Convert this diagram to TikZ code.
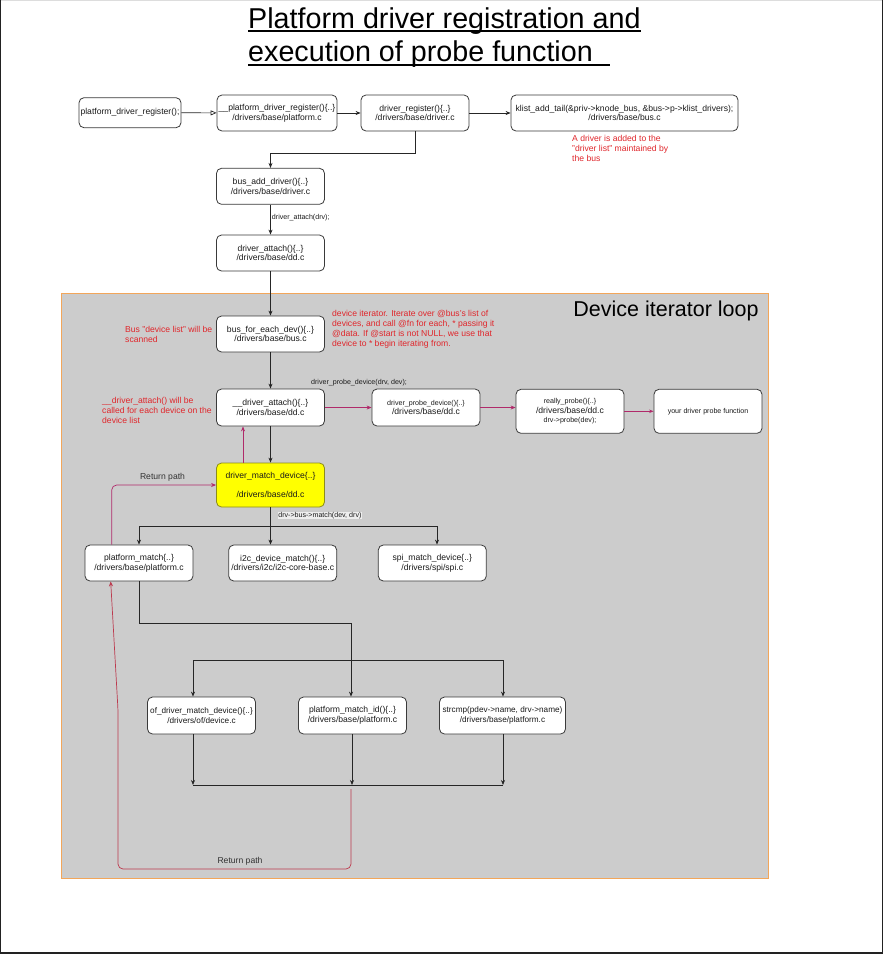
\documentclass[tikz,border=0pt]{standalone}
\usepackage{fontspec}
\setmainfont{Liberation Sans}
\usetikzlibrary{arrows.meta,calc}
\definecolor{boxline}{HTML}{3A3A3A}
\definecolor{txt}{HTML}{1A1A1A}
\definecolor{lineblk}{HTML}{262626}
\definecolor{maroon}{HTML}{B02A6A}
\definecolor{retred}{HTML}{BC3A4E}
\definecolor{notered}{HTML}{E0262B}
\definecolor{regiongray}{HTML}{CCCCCC}
\definecolor{regionorange}{HTML}{F2A65A}
\definecolor{yellowbox}{HTML}{FFFF00}
\definecolor{yellowline}{HTML}{8C8C1A}
\definecolor{labelbg}{HTML}{EEEEEE}
\definecolor{framedark}{HTML}{222222}
\definecolor{framegray}{HTML}{DDDDDD}
\definecolor{graytxt}{HTML}{333333}
\newcommand{\myfont}{\fontsize{8.6}{9.8}\selectfont}
\newcommand{\mysmall}{\fontsize{7.1}{9}\selectfont}
\newcommand{\mytiny}{\fontsize{8.2}{9.8}\selectfont}
\tikzset{
  box/.style={draw=boxline, fill=white, rounded corners=5pt, align=center,
    inner sep=0.5pt, font=\myfont, text=txt, line width=0.8pt},
  arr/.style={-{Stealth[length=5pt,width=4pt]}, line width=0.7pt, draw=lineblk},
  marr/.style={-{Stealth[length=5pt,width=4pt]}, line width=0.7pt, draw=maroon},
  note/.style={text=notered, align=left, font=\myfont, inner sep=0pt, anchor=north west},
  lbl/.style={font=\mysmall, text=txt, inner sep=0.6pt},
}
\begin{document}
\begin{tikzpicture}[x=1pt,y=-1pt]
\useasboundingbox (0,0) rectangle (883,954);
\fill[white] (0,0) rectangle (883,954);
% frame
\draw[framegray, line width=0.8pt] (0,0.4) -- (883,0.4);
\draw[framedark, line width=1.2pt] (0.6,0) -- (0.6,954);
\draw[framedark, line width=1pt] (882.5,0) -- (882.5,954);
\draw[framedark, line width=2.4pt] (0,952.8) -- (883,952.8);

% title
\node[font=\fontsize{28.7}{33}\selectfont, anchor=base west, inner sep=0pt, text=black] (t1) at (248,28.5) {Platform driver registration and};
\node[font=\fontsize{28.7}{33}\selectfont, anchor=base west, inner sep=0pt, text=black] (t2) at (248,61.8) {execution of probe function};
\draw[line width=1.6pt] ([yshift=-2.6pt]t1.base west) -- ([yshift=-2.6pt]t1.base east);
\draw[line width=1.6pt] ([yshift=-3pt]t2.base west) -- ([xshift=17pt,yshift=-3pt]t2.base east);

% region
\draw[fill=regiongray, draw=regionorange, line width=0.8pt] (61,293) rectangle (768,878);
\node[font=\fontsize{21.5}{24}\selectfont, text=black, inner sep=0pt] (dil) at (666,311) {Device iterator loop};

% top row
\node[box, minimum width=102pt, minimum height=30pt] (b1) at (130,112.7) {platform\_driver\_register();};
\node[box, minimum width=120pt, minimum height=36pt] (b2) at (277,113) {\_\_platform\_driver\_register()\{..\}\\/drivers/base/platform.c};
\node[box, minimum width=108pt, minimum height=36pt] (b3) at (415,113) {driver\_register()\{..\}\\/drivers/base/driver.c};
\node[box, minimum width=227pt, minimum height=36pt] (b4) at (624.5,113) {klist\_add\_tail(\&priv->knode\_bus, \&bus->p->klist\_drivers);\\/drivers/base/bus.c};
\node[note] (n1) at (572,135) {A driver is added to the\\"driver list" maintained by\\the bus};

\node[box, minimum width=108pt, minimum height=36pt] (b5) at (270.5,186.3) {bus\_add\_driver()\{..\}\\/drivers/base/driver.c};
\node[box, minimum width=108pt, minimum height=36pt] (b6) at (270.5,253) {driver\_attach()\{..\}\\/drivers/base/dd.c};

\draw[-{Triangle[open,length=6pt,width=5pt]}, line width=0.7pt, draw=lineblk] (b1) -- (b2);
\draw[arr] (b2) -- (b3);
\draw[arr] (b3) -- (b4);
\coordinate (c1) at (415,153.3);
\draw[arr] (b3.south) -- (c1) -| (b5.north);
\draw[arr] (b5) -- (b6) node[lbl, pos=0.45, anchor=west, xshift=0.5pt] (l1) {driver\_attach(drv);};

% loop region
\node[box, minimum width=108pt, minimum height=36pt] (b7) at (270.5,334) {bus\_for\_each\_dev()\{..\}\\/drivers/base/bus.c};
\node[note] (n2) at (125,326.5) {Bus "device list" will be\\scanned};
\node[note] (n3) at (332,310.5) {device iterator. Iterate over @bus's list of\\devices, and call @fn for each, * passing it\\@data. If @start is not NULL, we use that\\device to * begin iterating from.};
\draw[arr] (b6) -- (b7);

\node[box, minimum width=108pt, minimum height=37pt] (b8) at (270.5,407.5) {\_\_driver\_attach()\{..\}\\/drivers/base/dd.c};
\node[note] (n4) at (102,397.5) {\_\_driver\_attach() will be\\called for each device on the\\device list};
\node[box, minimum width=108pt, minimum height=37pt] (b9) at (426,407.5) {{\mysmall driver\_probe\_device()\{..\}}\\/drivers/base/dd.c};
\node[box, minimum width=108pt, minimum height=44pt] (b10) at (570,411.3) {{\mysmall really\_probe()\{..\}}\\/drivers/base/dd.c\\{\mysmall drv->probe(dev);}};
\node[box, minimum width=108pt, minimum height=44pt, font=\mysmall] (b11) at (708,411.3) {your driver probe function};
\draw[arr] (b7) -- (b8);
\node[lbl] (l2) at (359,382.5) {driver\_probe\_device(drv, dev);};
\draw[marr] (b8.east) -- (b9.west);
\draw[marr] (b9.east) -- (b9.east -| b10.west);
\draw[marr, line width=1.4pt, -{Stealth[length=4.5pt,width=3.5pt]}] (b10) -- (b11);

\node[box, fill=yellowbox, draw=yellowline, minimum width=108pt, minimum height=44pt] (b12) at (270.5,485) {driver\_match\_device\{..\}\\[8.6pt]/drivers/base/dd.c};
\draw[arr] (b8) -- (b12);
\draw[marr] ([xshift=-27.5pt]b12.north) -- ([xshift=-27.5pt]b12.north |- b8.south);

\node[box, minimum width=108pt, minimum height=36pt] (b13) at (139,563) {platform\_match\{..\}\\/drivers/base/platform.c};
\node[box, minimum width=108pt, minimum height=36pt] (b14) at (282.7,563) {i2c\_device\_match()\{..\}\\/drivers/i2c/i2c-core-base.c};
\node[box, minimum width=108pt, minimum height=36pt] (b15) at (432.3,563) {spi\_match\_device\{..\}\\/drivers/spi/spi.c};

% return path to driver_match_device
\coordinate (r1) at (111.7,485);
\draw[marr, rounded corners=5pt] ([xshift=-27.3pt]b13.north) -- (r1) -- (b12.west);
\node[font=\myfont, text=graytxt, inner sep=0pt] (rp1) at (162.5,477.5) {Return path};

% match fan-out
\coordinate (j1) at (270.5,526);
\coordinate (j0) at (139,526);
\coordinate (j3) at (437,526);
\draw[line width=0.7pt, draw=lineblk] (b12.south) -- (j1);
\draw[line width=0.7pt, draw=lineblk] (j0) -- (j3);
\draw[arr] (j0) -- (b13.north);
\draw[arr] (j1) -- (j1 |- b14.north);
\draw[arr] (j3) -- (j3 |- b15.north);
\node[lbl, fill=labelbg, anchor=west] (l3) at (277.5,515.5) {drv->bus->match(dev, drv)};

% second level
\node[box, minimum width=108pt, minimum height=37pt, font=\mytiny] (b16) at (201.5,715.5) {of\_driver\_match\_device()\{..\}\\/drivers/of/device.c};
\node[box, minimum width=108pt, minimum height=37pt] (b17) at (352.5,715.5) {platform\_match\_id()\{..\}\\/drivers/base/platform.c};
\node[box, minimum width=126pt, minimum height=37pt, font=\mytiny] (b18) at (502.5,715.5) {strcmp(pdev->name, drv->name)\\/drivers/base/platform.c};

\coordinate (k1) at (139,623);
\coordinate (k2) at (351,623);
\draw[arr] (b13.south) -- (k1) -- (k2) -- (k2 |- b17.north);
\coordinate (m1) at (193,660);
\coordinate (m2) at (503,660);
\draw[line width=0.7pt, draw=lineblk] (m1) -- (m2);
\draw[arr] (m1) -- (m1 |- b16.north);
\draw[arr] (m2) -- (m2 |- b18.north);

\coordinate (p1) at (193,785);
\coordinate (p2) at (352,785);
\coordinate (p3) at (503,785);
\draw[line width=0.7pt, draw=lineblk] (p1) -- (p3);
\draw[arr] (p1 |- b16.south) -- (p1);
\draw[arr] (b17.south -| p2) -- (p2);
\draw[arr] (p3 |- b18.south) -- (p3);

% bottom return path
\coordinate (q0) at (351,789);
\coordinate (q1) at (351,869);
\coordinate (q2) at (118,869);
\coordinate (q3) at (118,710);
\draw[-{Stealth[length=5pt,width=4pt]}, line width=0.7pt, draw=retred, rounded corners=5pt] (q0) -- (q1) -- (q2) -- (q3) -- ([xshift=-28.3pt]b13.south);
\node[font=\myfont, text=graytxt, inner sep=0pt] (rp2) at (240,861) {Return path};
\end{tikzpicture}
\end{document}
